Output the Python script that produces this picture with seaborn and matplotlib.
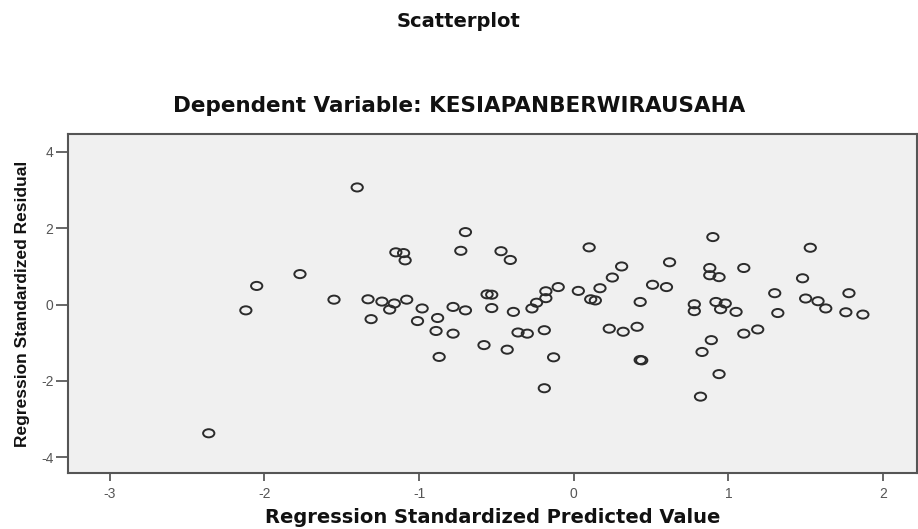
import matplotlib
matplotlib.use("Agg")
import matplotlib.pyplot as plt
import seaborn as sns
import pandas as pd
from matplotlib.path import Path
from matplotlib.transforms import Affine2D

# standardized predicted values (x) and standardized residuals (y)
predicted = [-2.36, -2.12, -2.05, -1.77, -1.55, -1.40, -1.33, -1.31, -1.24, -1.19,
             -1.16, -1.15, -1.10, -1.09, -1.08, -1.01, -0.98, -0.89, -0.88, -0.87,
             -0.78, -0.78, -0.73, -0.70, -0.70, -0.58, -0.56, -0.53, -0.53, -0.47,
             -0.43, -0.41, -0.39, -0.36, -0.30, -0.27, -0.24, -0.19, -0.19, -0.18,
             -0.18, -0.13, -0.10, 0.03, 0.10, 0.11, 0.14, 0.17, 0.23, 0.25,
             0.31, 0.32, 0.41, 0.43, 0.43, 0.44, 0.51, 0.60, 0.62, 0.78,
             0.78, 0.82, 0.83, 0.88, 0.88, 0.89, 0.90, 0.92, 0.94, 0.94,
             0.95, 0.98, 1.05, 1.10, 1.10, 1.19, 1.30, 1.32, 1.48, 1.50,
             1.53, 1.58, 1.63, 1.76, 1.78, 1.87]
residual = [-3.37, -0.15, 0.49, 0.80, 0.13, 3.07, 0.14, -0.38, 0.08, -0.13,
            0.03, 1.37, 1.35, 1.16, 0.13, -0.43, -0.10, -0.69, -0.35, -1.37,
            -0.06, -0.76, 1.41, 1.90, -0.15, -1.06, 0.27, 0.26, -0.09, 1.40,
            -1.18, 1.17, -0.19, -0.73, -0.76, -0.10, 0.05, -0.67, -2.19, 0.35,
            0.17, -1.38, 0.46, 0.36, 1.50, 0.14, 0.11, 0.43, -0.63, 0.71,
            1.00, -0.71, -0.58, 0.07, -1.45, -1.46, 0.52, 0.46, 1.11, 0.01,
            -0.17, -2.41, -1.24, 0.96, 0.77, -0.93, 1.77, 0.07, 0.72, -1.82,
            -0.12, 0.03, -0.19, 0.96, -0.76, -0.65, 0.30, -0.22, 0.69, 0.16,
            1.49, 0.09, -0.10, -0.20, 0.30, -0.26]

x_ticks = [-3, -2, -1, 0, 1, 2]
y_ticks = [-4, -2, 0, 2, 4]

df = pd.DataFrame({"pred": predicted, "resid": residual})

sns.set_style("ticks", {"axes.facecolor": "#f0f0f0"})
plt.rcParams["font.family"] = ["DejaVu Sans"]

fig = plt.figure(figsize=(9.18, 5.29), dpi=100)
ax = fig.add_axes([0.0741, 0.1059, 0.9248, 0.6408])

# SPSS draws slightly flattened open circles
ellipse = Path.unit_circle().transformed(Affine2D().scale(1.0, 0.72))
sns.scatterplot(data=df, x="pred", y="resid", ax=ax, marker=ellipse, s=66,
                facecolor="none", edgecolor="#2b2b2b", linewidth=1.4)

ax.set_xlim(-3.27, 2.22)
ax.set_ylim(-4.41, 4.47)
ax.set_xticks(x_ticks)
ax.set_yticks(y_ticks)
ax.set_xticklabels([str(t) for t in x_ticks], family="Liberation Sans")
ax.set_yticklabels([str(t) for t in y_ticks], family="Liberation Sans")
ax.tick_params(axis="x", length=6, width=1.2, pad=4, labelsize=10,
               color="#4d4d4d", labelcolor="#555555")
ax.tick_params(axis="y", length=8.5, width=1.2, pad=2, labelsize=10,
               color="#4d4d4d", labelcolor="#555555")
for side in ["left", "right", "top", "bottom"]:
    ax.spines[side].set_visible(True)
    ax.spines[side].set_color("#555555")
    ax.spines[side].set_linewidth(1.5)

ax.set_xlabel("Regression Standardized Predicted Value", fontsize=14,
              fontweight="bold", color="#111111")
ax.xaxis.set_label_coords(0.5, -0.1475)
ax.xaxis.label.set_va("baseline")
ax.set_ylabel("Regression Standardized Residual", fontsize=12.5,
              fontweight="bold", family="Liberation Sans", color="#111111")
ax.yaxis.set_label_coords(-0.054, 0.5)
ax.yaxis.label.set_va("center")

fig.text(0.5, 0.949, "Scatterplot", ha="center", va="baseline",
         fontsize=14, fontweight="bold", color="#111111")
fig.text(0.5, 0.789, "Dependent Variable: KESIAPANBERWIRAUSAHA", ha="center",
         va="baseline", fontsize=15.5, fontweight="bold", color="#111111")

fig.savefig("out.png", dpi=100, facecolor="white")
